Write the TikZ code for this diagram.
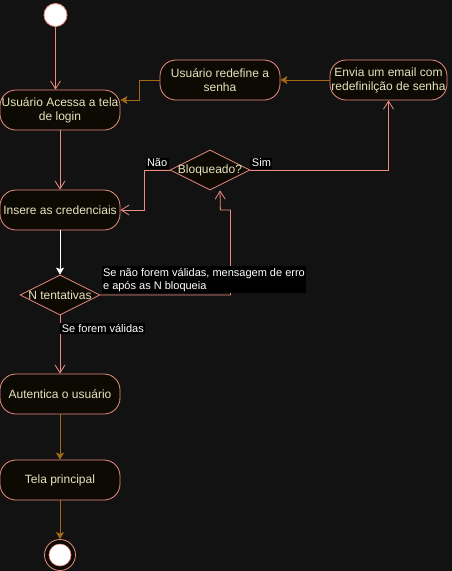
\documentclass[tikz,border=0pt]{standalone}
\usepackage{fontspec}
\setmainfont{Liberation Sans}
\usetikzlibrary{arrows.meta,shapes.geometric,calc}
\definecolor{bg}{RGB}{18,18,19}
\definecolor{pinkline}{RGB}{236,140,128}
\definecolor{nodefill}{RGB}{12,10,3}
\definecolor{nodetext}{RGB}{232,226,188}
\definecolor{orangeline}{RGB}{163,104,18}
\begin{document}
\begin{tikzpicture}[x=1pt,y=-1pt,
  font=\fontsize{12}{14}\selectfont,
  act/.style={draw=pinkline, fill=nodefill, text=nodetext, rounded corners=16pt,
    minimum width=120pt, minimum height=40pt, inner sep=0pt, align=center, line width=0.8pt},
  dec/.style={diamond, draw=pinkline, fill=nodefill, text=nodetext, minimum width=80pt,
    minimum height=40pt, inner sep=0pt, line width=0.8pt},
  pinkarrow/.style={draw=pinkline, line width=0.8pt, -{Straight Barb[length=8pt,width=10pt]}},
  orangearrow/.style={draw=orangeline, line width=0.8pt, -{Stealth[length=7pt,width=8pt,inset=1.5pt]}},
  whitearrow/.style={draw=white, line width=0.8pt, -{Stealth[length=7pt,width=8pt,inset=1.5pt]}},
  lbl/.style={fill=black, text=white, font=\fontsize{11}{13}\selectfont, inner sep=1.5pt, align=left}
]
\fill[bg] (0,0) rectangle (452,571);
\useasboundingbox (0,0) rectangle (452,571);

\node[circle, draw=pinkline, fill=white, minimum size=23pt, inner sep=0pt, line width=0.8pt] (start) at (55.5,15) {};
\node[act] (login) at (60,110) {Usuário Acessa a tela\\de login};
\node[act] (redef) at (220,80) {Usuário redefine a\\senha};
\node[act, minimum width=117pt] (email) at (388.5,80) {Envia um email com\\redefinilção de senha};
\node[dec, label={[text=nodetext]center:Bloqueado?}] (bloq) at (210,170) {};
\node[act] (insere) at (60,210) {Insere as credenciais};
\node[dec, label={[text=nodetext]center:N tentativas}] (ntent) at (60,295) {};
\node[act] (auth) at (60,394) {Autentica o usuário};
\node[act] (tela) at (60,480) {Tela principal};
\node[circle, draw=pinkline, fill=nodefill, minimum size=31pt, inner sep=0pt, line width=0.8pt] (endo) at (60,555) {};
\node[circle, draw=pinkline, fill=white, minimum size=22pt, inner sep=0pt, line width=0.6pt] (endi) at (endo.center) {};

\draw[pinkarrow] (start.south) -- (start.south |- login.north);
\draw[orangearrow] (email.west) -- (redef.east);
\draw[orangearrow] (redef.west) -- ++(-20,0) |- ([yshift=10pt]login.east);
\draw[pinkarrow] (login.south) -- (insere.north);
\draw[pinkarrow] (bloq.west) -- ++(-25,0) node[lbl, midway, above=1pt] {Não} |- (insere.east);
\draw[pinkarrow] (bloq.east) -| (email.south) node[lbl, pos=0.04, above=1pt] {Sim};
\draw[whitearrow] (insere.south) -- (ntent.north);
\draw[pinkarrow] (ntent.east) -| ++(130,-85) -- ++(-10,0) -- ([xshift=10pt]bloq.south);
\node[lbl, anchor=south west] (lblerr) at ([xshift=1pt,yshift=2pt]ntent.east) {Se não forem válidas, mensagem de erro\\e após as N bloqueia};
\draw[pinkarrow] (ntent.south) -- (auth.north) node[lbl, pos=0.22, anchor=west] {Se forem válidas};
\draw[orangearrow] (auth.south) -- (tela.north);
\draw[orangearrow] (tela.south) -- (endo.north);
\end{tikzpicture}
\end{document}
